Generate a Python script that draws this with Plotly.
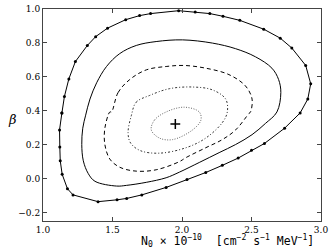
import plotly.graph_objects as go

# contour levels (closed loops)
outer_x = [1.136, 1.154, 1.186, 1.233, 1.319, 1.379, 1.464, 1.595, 1.695, 1.774, 1.976, 2.095, 2.200, 2.295, 2.416,
           2.588, 2.707, 2.790, 2.890, 2.926, 2.905, 2.850, 2.738, 2.593, 2.500, 2.404, 2.290, 2.171, 2.036, 1.886,
           1.711, 1.602, 1.533, 1.396, 1.216, 1.176, 1.138, 1.124, 1.121, 1.119, 1.136]
outer_y = [0.387, 0.484, 0.588, 0.690, 0.785, 0.837, 0.887, 0.937, 0.961, 0.973, 0.990, 0.983, 0.973, 0.957, 0.933,
           0.881, 0.828, 0.770, 0.667, 0.559, 0.469, 0.387, 0.297, 0.207, 0.167, 0.121, 0.078, 0.036, -0.006, -0.052,
           -0.096, -0.117, -0.125, -0.136, -0.096, -0.060, 0.025, 0.105, 0.187, 0.287, 0.387]

c2_x = [1.307, 1.338, 1.386, 1.457, 1.552, 1.671, 1.814, 2.004, 2.219, 2.386, 2.529, 2.647, 2.695, 2.711, 2.683,
        2.600, 2.504, 2.386, 2.267, 2.124, 1.981, 1.886, 1.743, 1.600, 1.529, 1.374, 1.326, 1.290, 1.279, 1.286, 1.307]
c2_y = [0.374, 0.469, 0.565, 0.661, 0.737, 0.785, 0.808, 0.818, 0.799, 0.766, 0.718, 0.651, 0.584, 0.507, 0.393,
        0.325, 0.259, 0.201, 0.153, 0.095, 0.038, 0.005, -0.022, -0.040, -0.044, -0.016, 0.029, 0.105, 0.201, 0.297, 0.374]

c3_x = [1.493, 1.540, 1.624, 1.743, 1.886, 2.016, 2.171, 2.338, 2.457, 2.504, 2.493, 2.481, 2.386, 2.290, 2.171,
        2.029, 1.981, 1.814, 1.671, 1.552, 1.481, 1.445, 1.445, 1.481, 1.493]
c3_y = [0.393, 0.507, 0.584, 0.641, 0.661, 0.667, 0.651, 0.613, 0.546, 0.469, 0.393, 0.383, 0.287, 0.230, 0.182,
        0.124, 0.100, 0.052, 0.044, 0.067, 0.115, 0.201, 0.297, 0.393, 0.393]

c4_x = [1.636, 1.670, 1.766, 1.909, 2.076, 2.219, 2.314, 2.326, 2.290, 2.171, 2.029, 1.838, 1.700, 1.630, 1.612, 1.636]
c4_y = [0.373, 0.450, 0.490, 0.530, 0.540, 0.523, 0.469, 0.393, 0.330, 0.239, 0.182, 0.150, 0.165, 0.210, 0.270, 0.373]

c5_x = [1.779, 1.802, 1.886, 2.016, 2.124, 2.136, 2.076, 1.933, 1.838, 1.779]
c5_y = [0.287, 0.345, 0.393, 0.421, 0.393, 0.345, 0.287, 0.230, 0.239, 0.287]

best_x = [1.952]
best_y = [0.322]

x_ticks = [1.0, 1.5, 2.0, 2.5, 3.0]
y_ticks = [-0.2, 0.0, 0.2, 0.4, 0.6, 0.8, 1.0]

fig = go.Figure()
fig.add_trace(go.Scatter(x=outer_x, y=outer_y, mode="lines+markers",
                         line=dict(color="black", width=1), marker=dict(color="black", size=3)))
fig.add_trace(go.Scatter(x=c2_x, y=c2_y, mode="lines", line=dict(color="black", width=1, shape="spline")))
fig.add_trace(go.Scatter(x=c3_x, y=c3_y, mode="lines", line=dict(color="black", width=1, dash="4px,3px", shape="spline")))
fig.add_trace(go.Scatter(x=c4_x, y=c4_y, mode="lines",
                         line=dict(color="#333333", width=1, dash="2px,2px,1px,2px", shape="spline")))
fig.add_trace(go.Scatter(x=c5_x, y=c5_y, mode="lines",
                         line=dict(color="#666666", width=1, dash="1px,1.5px", shape="spline")))
fig.add_trace(go.Scatter(x=best_x, y=best_y, mode="markers",
                         marker=dict(symbol="cross-thin", size=7, line=dict(color="black", width=1.5))))

axis_common = dict(showline=True, linecolor="#444444", linewidth=1, mirror="ticks", ticks="inside",
                   ticklen=4, tickcolor="#444444", showgrid=False, zeroline=False,
                   tickfont=dict(family="DejaVu Serif", size=9, color="black"))
fig.update_xaxes(range=[1.0, 3.0], tickvals=x_ticks, ticktext=[f"{v:.1f}" for v in x_ticks], **axis_common)
fig.update_yaxes(range=[-0.25, 1.0], tickvals=y_ticks, ticktext=[f"{v:.1f}".replace("-", "\u2212") for v in y_ticks],
                 **axis_common)

fig.add_annotation(xref="paper", yref="paper", x=0.665, y=-0.093, xanchor="center", yanchor="middle",
                   showarrow=False,
                   text="N<sub>0</sub> \u00d7 10<sup>\u221210</sup>  [cm<sup>\u22122</sup> s<sup>\u22121</sup> MeV<sup>\u22121</sup>]",
                   font=dict(family="DejaVu Sans Mono", size=11.5, color="black"))
fig.add_annotation(xref="paper", yref="paper", x=-0.111, y=0.48, xanchor="center", yanchor="middle",
                   showarrow=False, text="<i>\u03b2</i>",
                   font=dict(family="DejaVu Serif", size=13, color="black"))

fig.update_layout(width=332, height=249, margin=dict(l=43, r=9, t=4, b=28),
                  plot_bgcolor="white", paper_bgcolor="white", showlegend=False)

fig.write_html("out.html", config={"displayModeBar": False},
               post_script="document.body.style.margin='0';document.body.style.overflow='hidden';")
